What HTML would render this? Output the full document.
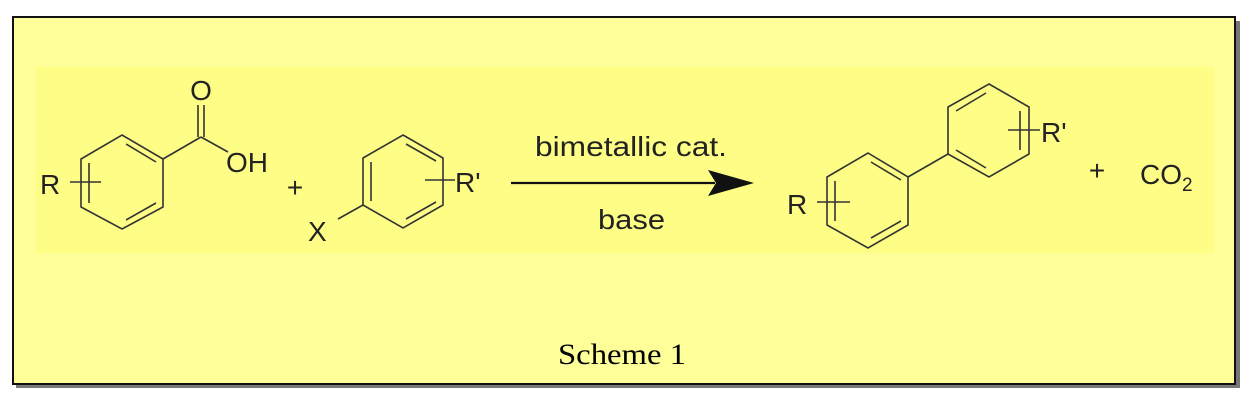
<!DOCTYPE html>
<html><head><meta charset="utf-8"><style>
body{margin:0;width:1256px;height:404px;background:#fff;overflow:hidden}
svg{position:absolute;left:0;top:0}
text{font-family:"Liberation Sans",sans-serif;fill:#222;font-size:28px}
tspan.s{font-size:19px}
text.cap{font-family:"Liberation Serif",serif;font-size:30px;fill:#000}
</style></head><body>
<svg width="1256" height="404" viewBox="0 0 1256 404">
<rect x="16" y="21" width="1224" height="367" fill="#777"/>
<rect x="13" y="17" width="1222" height="367" fill="#ffff99" stroke="#111" stroke-width="2"/>
<rect x="36" y="67" width="1178" height="186" fill="#fefe86"/>
<g stroke="#333" stroke-width="1.6" fill="none">
<polygon points="122,135 163,159 163,207 122,229 81,207 81,159"/>
<line x1="126" y1="144" x2="156" y2="162"/>
<line x1="156" y1="203" x2="126" y2="220"/>
<line x1="89" y1="163" x2="89" y2="203"/>
<line x1="163" y1="159" x2="201" y2="137"/>
<line x1="201" y1="137" x2="228" y2="152"/>
<line x1="198" y1="137" x2="198" y2="105"/>
<line x1="204" y1="137" x2="204" y2="105"/>
<line x1="70" y1="182" x2="101" y2="182"/>
<polygon points="403,135 443,158 443,205 403,228 363,205 363,158"/>
<line x1="406" y1="144" x2="436" y2="161"/>
<line x1="436" y1="202" x2="406" y2="219"/>
<line x1="371" y1="162" x2="371" y2="201"/>
<line x1="363" y1="205" x2="338" y2="219"/>
<line x1="425" y1="180" x2="455" y2="180"/>
<polygon points="868,153 908,177 908,225 868,248 827,225 827,177"/>
<line x1="871" y1="162" x2="901" y2="180"/>
<line x1="901" y1="221" x2="871" y2="238"/>
<line x1="835" y1="181" x2="835" y2="221"/>
<line x1="817" y1="202" x2="850" y2="202"/>
<line x1="908" y1="177" x2="948" y2="154"/>
<polygon points="989,84 1029,107 1029,154 989,177 948,154 948,107"/>
<line x1="956" y1="111" x2="986" y2="93"/>
<line x1="956" y1="150" x2="986" y2="168"/>
<line x1="1020" y1="111" x2="1020" y2="150"/>
<line x1="1008" y1="130" x2="1040" y2="130"/>
<line x1="511" y1="183" x2="715" y2="183" stroke="#111" stroke-width="2.2"/>
</g>
<polygon points="708,170 754,183 708,196 716,183" fill="#111"/>
<text x="201" y="100" text-anchor="middle">O</text>
<text x="226" y="172">OH</text>
<text x="40" y="194">R</text>
<text x="295" y="197" text-anchor="middle">+</text>
<text x="308" y="241">X</text>
<text x="455" y="192">R'</text>
<text x="535" y="156" textLength="192" lengthAdjust="spacingAndGlyphs">bimetallic cat.</text>
<text x="598" y="229" textLength="67" lengthAdjust="spacingAndGlyphs">base</text>
<text x="787" y="214">R</text>
<text x="1041" y="142">R'</text>
<text x="1097" y="180" text-anchor="middle">+</text>
<text x="1140" y="184">CO<tspan class="s" dy="7">2</tspan></text>
<text class="cap" x="558" y="364" textLength="128" lengthAdjust="spacingAndGlyphs">Scheme 1</text>
</svg>
</body></html>
